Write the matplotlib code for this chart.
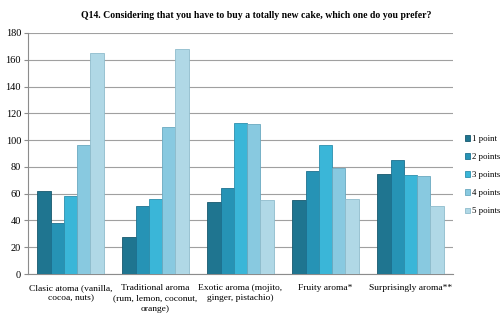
import matplotlib
matplotlib.use("Agg")
import matplotlib.pyplot as plt
import numpy as np

categories = ["Clasic atoma (vanilla,\ncocoa, nuts)",
              "Traditional aroma\n(rum, lemon, coconut,\norange)",
              "Exotic aroma (mojito,\nginger, pistachio)",
              "Fruity aroma*",
              "Surprisingly aroma**"]
series_names = ["1 point", "2 points", "3 points", "4 points", "5 points"]
p1 = [62, 28, 54, 55, 75]
p2 = [38, 51, 64, 77, 85]
p3 = [58, 56, 113, 96, 74]
p4 = [96, 110, 112, 79, 73]
p5 = [165, 168, 55, 56, 51]
series = [p1, p2, p3, p4, p5]
colors = ["#1f7590", "#2693b5", "#3ab6d8", "#88c9e0", "#b0d8e6"]
edges = ["#17596e", "#1d7190", "#2c8fae", "#6aa9c0", "#8fbccc"]

plt.rcParams['font.family'] = ['Liberation Serif', 'DejaVu Serif']

fig = plt.figure(figsize=(5.02, 3.22), dpi=100)
ax = fig.add_axes([28/502, 48/322, 425/502, 241/322])

x = np.arange(len(categories))
w = 0.156
for i, (vals, c, e) in enumerate(zip(series, colors, edges)):
    ax.bar(x + (i - 2) * w, vals, width=w, color=c, edgecolor=e, linewidth=0.6,
           label=series_names[i], zorder=3)

ax.set_xlim(-0.5, len(categories) - 0.5)
ax.set_ylim(0, 180)
ax.set_yticks(range(0, 181, 20))
ax.tick_params(axis='y', labelsize=7.5, length=3, color="#8c8c8c", pad=2)
ax.tick_params(axis='x', length=0, labelsize=6.8, pad=7)
ax.set_xticks(x)
ax.set_xticklabels(categories, linespacing=1.45)
ax.yaxis.grid(True, color="#a0a0a0", linewidth=0.8, zorder=0)
ax.set_axisbelow(True)
for s in ["top", "right"]:
    ax.spines[s].set_visible(False)
ax.spines["left"].set_color("#8c8c8c")
ax.spines["bottom"].set_color("#8c8c8c")

fig.text(0.5 * (83 + 430) / 502, 1 - 15 / 322,
         "Q14. Considering that you have to buy a totally new cake, which one do you prefer?",
         ha="center", va="center", fontsize=7.0, fontweight="bold")

leg = fig.legend(loc="upper left", bbox_to_anchor=(465/502, 1 - 135/322), frameon=False,
                 fontsize=6.3, handlelength=0.55, handleheight=0.55, handletextpad=0.3,
                 labelspacing=1.15, borderaxespad=0, borderpad=0)

fig.savefig("out.png", dpi=100)
